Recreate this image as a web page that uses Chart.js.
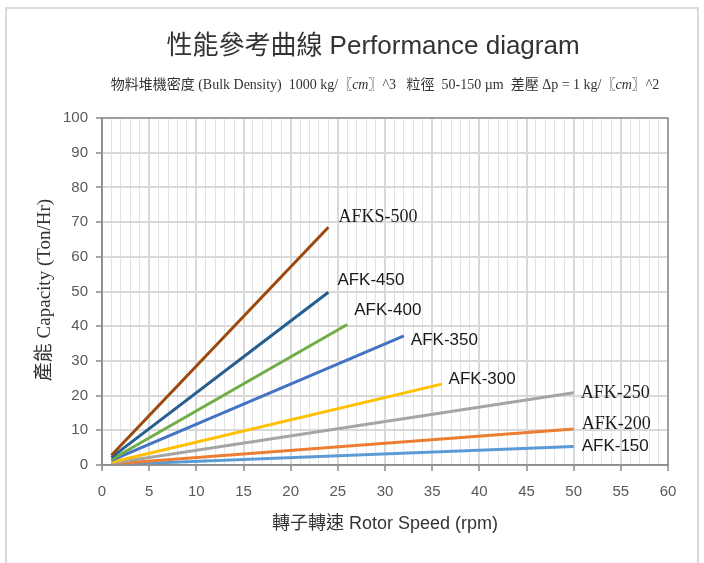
<!DOCTYPE html>
<html>
<head>
<meta charset="utf-8">
<script src="https://cdn.jsdelivr.net/npm/chart.js@4/dist/chart.umd.min.js"></script>
<style>
  body { margin: 0; background: #fff; }
  #wrap { width: 704px; height: 563px; position: relative; }
</style>
</head>
<body>
<div id="wrap"><canvas id="perfChart"></canvas></div>
<script>
// models and their start / end points
const models = ['AFKS-500', 'AFK-450', 'AFK-400', 'AFK-350', 'AFK-300', 'AFK-250', 'AFK-200', 'AFK-150'];
const startSpeed = [1, 1, 1, 1, 1, 1, 1, 1];
const startCapacity = [2.8, 2.2, 1.6, 1.3, 0.8, 0.5, 0.3, 0.1];
const endSpeed = [24, 24, 26, 32, 36, 50, 50, 50];
const endCapacity = [68.5, 49.8, 40.5, 37.2, 23.3, 20.8, 10.4, 5.3];
const xTicks = [0, 5, 10, 15, 20, 25, 30, 35, 40, 45, 50, 55, 60];
const yTicks = [0, 10, 20, 30, 40, 50, 60, 70, 80, 90, 100];

const lineColors = ['#9e480e', '#255e91', '#70ad47', '#4472c4', '#ffc000', '#a5a5a5', '#ed7d31', '#5b9bd5'];
// label offsets from line end (px) and font family
const labelStyle = [
    { dx: 10, dy: -10, serif: true },
    { dx: 9, dy: -12, serif: false },
    { dx: 7, dy: -14, serif: false },
    { dx: 7, dy: 4, serif: false },
    { dx: 7, dy: -5, serif: false },
    { dx: 7, dy: 0, serif: true },
    { dx: 8, dy: -5, serif: true },
    { dx: 8, dy: 0, serif: false }
];

const SANS = '"Liberation Sans", "Noto Sans CJK TC", sans-serif';
const SERIF = '"Liberation Serif", "Noto Sans CJK TC", serif';

const datasets = models.map((m, i) => ({
    label: m,
    data: [{ x: startSpeed[i], y: startCapacity[i] }, { x: endSpeed[i], y: endCapacity[i] }],
    borderColor: lineColors[i],
    backgroundColor: lineColors[i],
    borderWidth: 3,
    pointRadius: 0,
    tension: 0
}));

// draws "kg/〖cm〗^n" pieces with the cm in italics
function drawSubtitle(c, cx, cy) {
    const parts = [
        ['物料堆機密度 (Bulk Density)  1000 kg/〖', false],
        ['cm', true],
        ['〗^3   粒徑  50-150 µm  差壓 Δp = 1 kg/〖', false],
        ['cm', true],
        ['〗^2', false]
    ];
    const fontOf = (it) => (it ? 'italic ' : '') + '14px ' + SERIF;
    let total = 0;
    parts.forEach(p => { c.font = fontOf(p[1]); total += c.measureText(p[0]).width; });
    let x = cx - total / 2;
    c.textAlign = 'left';
    parts.forEach(p => {
        c.font = fontOf(p[1]);
        c.fillText(p[0], x, cy);
        x += c.measureText(p[0]).width;
    });
    c.textAlign = 'center';
}

const decorPlugin = {
    id: 'decor',
    beforeDraw(chart) {
        const c = chart.ctx;
        c.save();
        c.fillStyle = '#fff';
        c.fillRect(0, 0, chart.width, chart.height);
        c.strokeStyle = '#d9d9d9';
        c.lineWidth = 2;
        c.strokeRect(6, 8, 692, 600);
        c.restore();
    },
    afterDraw(chart) {
        const c = chart.ctx;
        const xs = chart.scales.x, ys = chart.scales.y;
        const a = chart.chartArea;
        c.save();
        // plot border
        c.strokeStyle = '#8c8c8c';
        c.lineWidth = 1.5;
        c.strokeRect(a.left, a.top, a.right - a.left, a.bottom - a.top);

        // title
        c.fillStyle = '#333';
        c.textBaseline = 'middle';
        c.textAlign = 'center';
        c.font = '26px ' + SANS;
        c.fillText('性能參考曲線 Performance diagram', 373, 47);
        drawSubtitle(c, 385, 85);

        // x axis title
        c.font = '18px ' + SANS;
        c.fillText('轉子轉速 Rotor Speed (rpm)', 385, 524);

        // y axis title
        c.save();
        c.translate(45, 290);
        c.rotate(-Math.PI / 2);
        c.font = '19px ' + SERIF;
        c.fillText('產能 Capacity (Ton/Hr)', 0, 0);
        c.restore();

        // line labels
        c.textAlign = 'left';
        c.fillStyle = '#1a1a1a';
        models.forEach((m, i) => {
            const st = labelStyle[i];
            const px = xs.getPixelForValue(endSpeed[i]) + st.dx;
            const py = ys.getPixelForValue(endCapacity[i]) + st.dy;
            c.font = st.serif ? '18px ' + SERIF : '17px ' + SANS;
            c.fillText(m, px, py);
        });
        c.restore();
    }
};

new Chart(document.getElementById('perfChart'), {
    type: 'line',
    data: { datasets },
    plugins: [decorPlugin],
    options: {
        responsive: true,
        maintainAspectRatio: false,
        animation: false,
        layout: { padding: { left: 42, right: 36, top: 118, bottom: 58 } },
        plugins: { legend: { display: false }, tooltip: { enabled: false } },
        scales: {
            x: {
                type: 'linear',
                min: 0,
                max: 60,
                afterFit: (s) => { s.height = 40; },
                ticks: {
                    stepSize: 1,
                    autoSkip: false,
                    maxRotation: 0,
                    padding: 12,
                    color: '#595959',
                    font: { family: SANS, size: 15 },
                    callback: (v) => (xTicks.includes(v) ? String(v) : '')
                },
                grid: {
                    color: (ctx) => (ctx.tick && ctx.tick.value % 5 === 0 ? '#d9d9d9' : '#e3e3e3'),
                    lineWidth: (ctx) => (ctx.tick && ctx.tick.value % 5 === 0 ? 2 : 1),
                    tickColor: (ctx) => (ctx.tick && ctx.tick.value % 5 === 0 ? '#a6a6a6' : 'rgba(0,0,0,0)'),
                    tickLength: 6
                },
                border: { color: '#8c8c8c', width: 1.5 }
            },
            y: {
                min: 0,
                max: 100,
                afterFit: (s) => { s.width = 60; },
                afterBuildTicks: (s) => { s.ticks = yTicks.map(v => ({ value: v })); },
                ticks: {
                    padding: 8,
                    color: '#595959',
                    font: { family: SANS, size: 15 }
                },
                grid: {
                    color: '#d9d9d9',
                    lineWidth: 2,
                    tickColor: '#a6a6a6',
                    tickLength: 6
                },
                border: { color: '#8c8c8c', width: 1.5 }
            }
        }
    }
});
</script>
</body>
</html>
